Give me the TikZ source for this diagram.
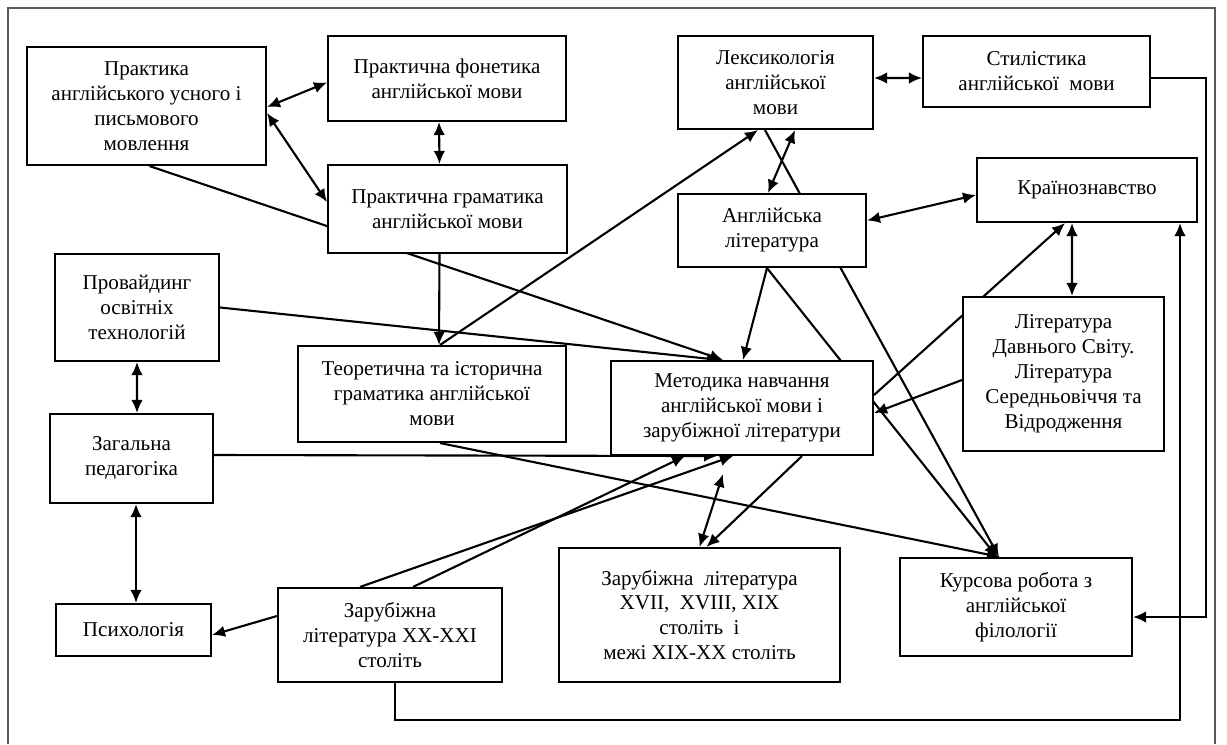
\documentclass[tikz,border=0pt]{standalone}
\usepackage{fontspec}
\setmainfont{Liberation Serif}
\usetikzlibrary{arrows.meta,backgrounds}

\begin{document}
\begin{tikzpicture}[x=0.02cm, y=-0.02cm,
	box/.style={draw, line width=1.2pt, fill=white, align=center, inner sep=2pt, font=\fontsize{12}{14.2}\selectfont},
	link/.style={line width=1.2pt},
	fwd/.style={link, -{Latex[length=2.6mm, width=2.3mm]}},
	both/.style={link, {Latex[length=2.6mm, width=2.3mm]}-{Latex[length=2.6mm, width=2.3mm]}}]
	\useasboundingbox (0,0) rectangle (1227,744);
	\node (prakt) [box, minimum width=4.78cm, minimum height=2.36cm] at (146.5,106) {Практика\\англійського усного і\\письмового\\мовлення};
	\node (fonet) [box, minimum width=4.76cm, minimum height=1.7cm] at (447,78.5) {Практична фонетика\\англійської мови};
	\node (gram) [box, minimum width=4.78cm, minimum height=1.76cm] at (447.5,209) {Практична граматика\\англійської мови};
	\node (leks) [box, minimum width=3.9cm, minimum height=1.86cm] at (775.5,82.5) {Лексикологія\\англійської\\мови};
	\node (styl) [box, minimum width=4.54cm, minimum height=1.42cm] at (1036.5,71.5) {Стилістика\\англійської\ \ мови};
	\node (anglit) [box, minimum width=3.76cm, minimum height=1.46cm] at (772,230.5) {Англійська\\література};
	\node (krain) [box, minimum width=4.4cm, minimum height=1.28cm] at (1087,190) {Країнознавство};
	\node (provid) [box, minimum width=3.28cm, minimum height=2.14cm] at (137,307.5) {Провайдинг\\освітніх\\технологій};
	\node (teor) [box, minimum width=5.36cm, minimum height=1.92cm] at (432,394) {Теоретична та історична\\граматика англійської\\мови};
	\node (metod) [box, minimum width=5.24cm, minimum height=1.88cm] at (742,408) {Методика навчання\\англійської мови і\\зарубіжної літератури};
	\node (davn) [box, minimum width=4.02cm, minimum height=3.08cm] at (1063.5,374) {Література\\Давнього Світу.\\Література\\Середньовіччя та\\Відродження};
	\node (zag) [box, minimum width=3.26cm, minimum height=1.78cm] at (131.5,458.5) {Загальна\\педагогіка};
	\node (psych) [box, minimum width=3.1cm, minimum height=1.04cm] at (133.5,630) {Психологія};
	\node (zar20) [box, minimum width=4.48cm, minimum height=1.88cm] at (390,635) {Зарубіжна\\література XX-XXI\\століть};
	\node (zar17) [box, minimum width=5.62cm, minimum height=2.68cm] at (699.5,615) {Зарубіжна\ \ література\\XVII,\ \ XVIII,\ XIX\\століть\ \ і\\межі XIX-XX\ століть};
	\node (kurs) [box, minimum width=4.64cm, minimum height=1.96cm] at (1016,607) {Курсова робота з\\англійської\\філології};
	\coordinate (lowrun) at (700,720);
	\coordinate (siderun) at (1206,400);
	\begin{pgfonlayer}{background}
	\draw[black!65, line width=1.3pt] (8,744) -- (8,8) -- (1215,8) -- (1215,744);
	\draw[both] ([shift={(0,1)}]prakt.east) -- ([shift={(0,4)}]fonet.west);
	\draw[both] ([shift={(0,7)}]prakt.east) -- ([shift={(0,-7)}]gram.west);
	\draw[fwd] ([shift={(3,0)}]prakt.south) -- ([shift={(-19,0)}]metod.north);
	\draw[both] ([shift={(-8,0)}]fonet.south) -- ([shift={(-8,0)}]gram.north);
	\draw[fwd] ([shift={(-8,0)}]gram.south) -- ([shift={(7,0)}]teor.north);
	\draw[fwd] ([shift={(8,0)}]teor.north) -- ([shift={(-17.5,0)}]leks.south);
	\draw[fwd] (provid.east) -- ([shift={(-22,0)}]metod.north);
	\draw[both] ([shift={(19.5,0)}]leks.south) -- ([shift={(-4,0)}]anglit.north);
	\draw[fwd] ([shift={(-10.5,0)}]leks.south) -- ([shift={(-17,0)}]kurs.north);
	\draw[both] ([shift={(0,-10)}]anglit.east) -- ([shift={(0,5)}]krain.west);
	\draw[fwd] ([shift={(-5,0)}]anglit.south) -- ([shift={(1,0)}]metod.north);
	\draw[fwd] ([shift={(-5,0)}]anglit.south) -- ([shift={(-19,0)}]kurs.north);
	\draw[both] ([shift={(-15,0)}]krain.south) -- ([shift={(8.5,0)}]davn.north);
	\draw[fwd] ([shift={(0,-13)}]metod.east) -- ([shift={(-22,0)}]krain.south);
	\draw[fwd] ([shift={(0,6)}]davn.west) -- ([shift={(0,5)}]metod.east);
	\draw[fwd] ([shift={(5,0)}]zar20.south) |- (lowrun) -| ([shift={(93,0)}]krain.south);
	\draw[fwd] ([shift={(0,6.5)}]styl.east) -| (siderun) |- ([shift={(0,10)}]kurs.east);
	\draw[both] ([shift={(0,-4.5)}]leks.east) -- ([shift={(0,6.5)}]styl.west);
	\draw[both] (provid.south) -- ([shift={(5.5,0)}]zag.north);
	\draw[both] ([shift={(4.5,0)}]zag.south) -- ([shift={(2.5,0)}]psych.north);
	\draw[fwd] ([shift={(0,-3.5)}]zag.east) -- ([shift={(-25,0)}]metod.south);
	\draw[fwd] ([shift={(0,-19)}]zar20.west) -- ([shift={(0,5)}]psych.east);
	\draw[fwd] ([shift={(-30,0)}]zar20.north) -- ([shift={(-9,0)}]metod.south);
	\draw[fwd] ([shift={(23,0)}]zar20.north) -- ([shift={(-57,0)}]metod.south);
	\draw[both] ([shift={(-19,18)}]metod.south) -- (zar17.north);
	\draw[fwd] ([shift={(60,0)}]metod.south) -- ([shift={(7,0)}]zar17.north);
	\draw[fwd] ([shift={(8,0)}]teor.south) -- ([shift={(-16,0)}]kurs.north);
	\end{pgfonlayer}
\end{tikzpicture}
\end{document}
